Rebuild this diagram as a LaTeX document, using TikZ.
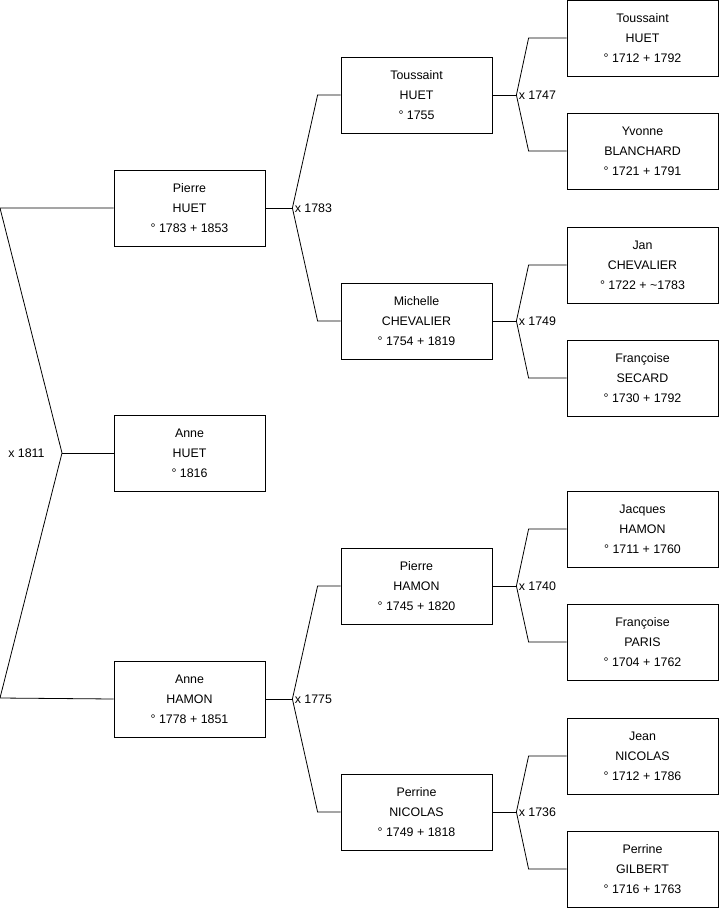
\documentclass[tikz,border=0pt]{standalone}
\usepackage{fontspec}
\setmainfont{Liberation Sans}
\usetikzlibrary{positioning, calc}

\tikzset{
  person/.style={draw, rectangle, minimum width=151pt, minimum height=76pt, align=center, inner sep=0pt, font=\fontsize{12.4}{20}\selectfont},
  mariage/.style={inner sep=0pt, font=\fontsize{12.4}{15}\selectfont}
}

\begin{document}
\begin{tikzpicture}[x=1pt, y=-1pt, line width=0.8pt]
  \useasboundingbox (0,0) rectangle (719,908);

  % generation 1
  \node[person] (pierrehuet) at (189.5,208) {Pierre\\HUET\\° 1783 + 1853};
  \node[person] (annehuet) at (189.5,453) {Anne\\HUET\\° 1816};
  \node[person] (annehamon) at (189.5,699) {Anne\\HAMON\\° 1778 + 1851};

  % generation 2
  \node[person] (toussaint1755) at (416.5,95) {Toussaint\\HUET\\° 1755};
  \node[person] (michelle) at (416.5,321) {Michelle\\CHEVALIER\\° 1754 + 1819};
  \node[person] (pierrehamon) at (416.5,586) {Pierre\\HAMON\\° 1745 + 1820};
  \node[person] (perrinenicolas) at (416.5,812) {Perrine\\NICOLAS\\° 1749 + 1818};

  % generation 3
  \node[person] (toussaint1712) at (642.5,38) {Toussaint\\HUET\\° 1712 + 1792};
  \node[person] (yvonne) at (642.5,151) {Yvonne\\BLANCHARD\\° 1721 + 1791};
  \node[person] (jan) at (642.5,265) {Jan\\CHEVALIER\\° 1722 + \textasciitilde 1783};
  \node[person] (francoisesecard) at (642.5,378) {Françoise\\SECARD\\° 1730 + 1792};
  \node[person] (jacques) at (642.5,529) {Jacques\\HAMON\\° 1711 + 1760};
  \node[person] (francoiseparis) at (642.5,642) {Françoise\\PARIS\\° 1704 + 1762};
  \node[person] (jean) at (642.5,756) {Jean\\NICOLAS\\° 1712 + 1786};
  \node[person] (perrinegilbert) at (642.5,869) {Perrine\\GILBERT\\° 1716 + 1763};

  % x 1811
  \coordinate (m1811) at (62,453);
  \coordinate (top1811) at (0,208);
  \coordinate (bot1811) at (0,698);
  \draw (pierrehuet.west) -- (top1811) -- (m1811) -- (bot1811) -- (annehamon.west);
  \draw (m1811) -- (annehuet.west);
  \node[mariage, left=17pt of m1811] {x 1811};

  % x 1783
  \draw (pierrehuet.east) -- ++(27,0) coordinate (m1783);
  \draw (toussaint1755.west) -- ++(-23,0) -- (m1783) -- ($(michelle.west)+(-23,0)$) -- (michelle.west);
  \node[mariage, right=2pt of m1783] {x 1783};

  % x 1775
  \draw (annehamon.east) -- ++(27,0) coordinate (m1775);
  \draw (pierrehamon.west) -- ++(-23,0) -- (m1775) -- ($(perrinenicolas.west)+(-23,0)$) -- (perrinenicolas.west);
  \node[mariage, right=2pt of m1775] {x 1775};

  % x 1747
  \draw (toussaint1755.east) -- ++(24,0) coordinate (m1747);
  \draw (toussaint1712.west) -- ++(-38,0) -- (m1747) -- ($(yvonne.west)+(-38,0)$) -- (yvonne.west);
  \node[mariage, right=2pt of m1747] {x 1747};

  % x 1749
  \draw (michelle.east) -- ++(24,0) coordinate (m1749);
  \draw (jan.west) -- ++(-38,0) -- (m1749) -- ($(francoisesecard.west)+(-38,0)$) -- (francoisesecard.west);
  \node[mariage, right=2pt of m1749] {x 1749};

  % x 1740
  \draw (pierrehamon.east) -- ++(24,0) coordinate (m1740);
  \draw (jacques.west) -- ++(-38,0) -- (m1740) -- ($(francoiseparis.west)+(-38,0)$) -- (francoiseparis.west);
  \node[mariage, right=2pt of m1740] {x 1740};

  % x 1736
  \draw (perrinenicolas.east) -- ++(24,0) coordinate (m1736);
  \draw (jean.west) -- ++(-38,0) -- (m1736) -- ($(perrinegilbert.west)+(-38,0)$) -- (perrinegilbert.west);
  \node[mariage, right=2pt of m1736] {x 1736};
\end{tikzpicture}
\end{document}
